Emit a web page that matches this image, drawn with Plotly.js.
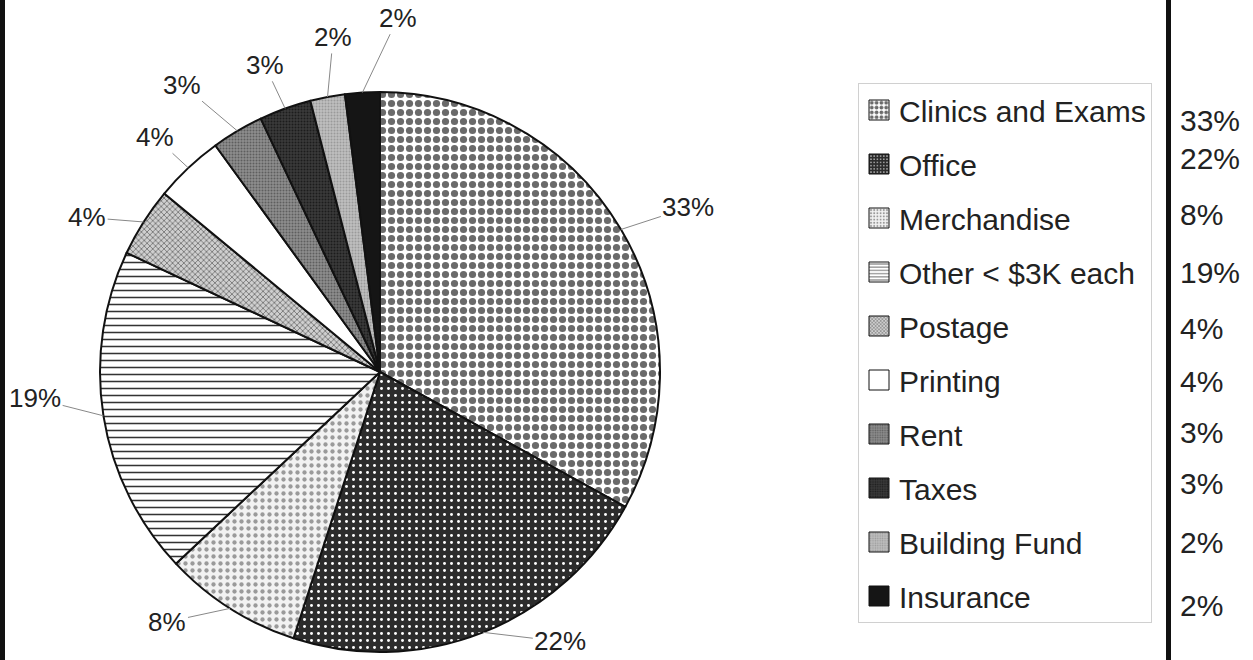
<!DOCTYPE html>
<html><head><meta charset="utf-8">
<script src="https://cdn.plot.ly/plotly-3.0.1.min.js"></script>
<style>html,body{margin:0;padding:0;background:#fff;} #chart{width:1253px;height:660px;}</style>
</head><body><div id="chart"></div>
<script>
// ---- data ----
const categories = ["Clinics and Exams","Office","Merchandise","Other < $3K each","Postage","Printing","Rent","Taxes","Building Fund","Insurance"];
const shares = [33,22,8,19,4,4,3,3,2,2];

// ---- styles (not data) ----
const bgColors = ["#ffffff","#2c2c2c","#f2f2f2","#ffffff","#cfcfcf","#ffffff","#8e8e8e","#3a3a3a","#bfbfbf","#151515"];
const fgColors = ["#6a6a6a","#ffffff","#9a9a9a","#333333","#555555","#ffffff","#5e5e5e","#1c1c1c","#9a9a9a","#151515"];
const shapes   = [".",".",".","-","x","",".",".",".",""];
const psizes   = [9,7,7,7,4,8,3,3,3,8];
const solid    = [0.5,0.14,0.3,0.22,0.3,0.3,0.35,0.35,0.35,0.3];

const W = 1253, H = 660;
const CX = 380, CY = 372, R = 280;           // pie placement (px)
const labelR = 335;                          // label radius (px)
const nudgeX = [20,57,-33,-14,-10,4,-27,-2,16,39];
const nudgeY = [6,-42,-33,-26,25,9,1,8,-6,-20];
const rightY = [120,158,215,273,328,382,432,483,542,605];
const FONT = "Liberation Sans, Arial, sans-serif";

const pie = {
  type: 'pie', labels: categories, values: shares, sort: false,
  direction: 'clockwise', rotation: 0, textinfo: 'none', showlegend: false,
  domain: {x: [(CX-R)/W, (CX+R)/W], y: [1-(CY+R)/H, 1-(CY-R)/H]},
  marker: {colors: bgColors, line: {color: '#111', width: 2},
    pattern: {shape: shapes, fgcolor: fgColors, bgcolor: bgColors, size: psizes, solidity: solid}}
};

const traces = [pie];
categories.forEach((c, i) => traces.push({
  type: 'bar', x: [0], y: [1], name: c, legendgroup: 'g' + i, showlegend: true, hoverinfo: 'skip',
  marker: {color: bgColors[i], line: {color: '#111', width: 1},
    pattern: {shape: shapes[i], fgcolor: fgColors[i], bgcolor: bgColors[i], size: Math.max(3, psizes[i]-3), solidity: solid[i]}}
}));

const total = shares.reduce((a, b) => a + b, 0);
const annotations = [];
let cum = 0;
shares.forEach((v, i) => {
  const mid = (cum + v / 2) / total * 2 * Math.PI; cum += v;
  const s = Math.sin(mid), c = Math.cos(mid);
  const px = CX + R * s, py = CY - R * c;
  annotations.push({
    xref: 'paper', yref: 'paper', x: px / W, y: 1 - py / H,
    ax: (labelR - R) * s + nudgeX[i], ay: -(labelR - R) * c + nudgeY[i],
    text: Math.round(v / total * 100) + '%', showarrow: true, arrowhead: 0,
    arrowwidth: 1, arrowcolor: '#888', standoff: 0,
    font: {family: FONT, size: 26, color: '#222'}
  });
  annotations.push({
    xref: 'paper', yref: 'paper', x: 1178 / W, y: 1 - rightY[i] / H,
    xanchor: 'left', yanchor: 'middle', showarrow: false,
    text: Math.round(v / total * 100) + '%',
    font: {family: FONT, size: 30, color: '#222'}
  });
});

const layout = {
  width: W, height: H, margin: {l: 0, r: 0, t: 0, b: 0},
  paper_bgcolor: '#fff', plot_bgcolor: 'rgba(0,0,0,0)',
  font: {family: FONT, color: '#222'},
  showlegend: true,
  legend: {x: 858 / W, y: 1 - 83 / H, xanchor: 'left', yanchor: 'top',
    bordercolor: '#d0d0d0', borderwidth: 1, bgcolor: '#fff',
    font: {family: FONT, size: 30, color: '#222'},
    traceorder: 'grouped', tracegroupgap: 12},
  xaxis: {visible: false, fixedrange: true, range: [-1, 1]},
  yaxis: {visible: false, fixedrange: true, range: [10, 20]},
  annotations: annotations,
  shapes: [
    {type: 'line', xref: 'paper', yref: 'paper', x0: 2.5 / W, x1: 2.5 / W, y0: 0, y1: 1, line: {color: '#111', width: 5}},
    {type: 'line', xref: 'paper', yref: 'paper', x0: 1168.5 / W, x1: 1168.5 / W, y0: 0, y1: 1, line: {color: '#111', width: 5}}
  ]
};

Plotly.newPlot('chart', traces, layout, {staticPlot: true}).then(gd => {
  gd.querySelectorAll('.legend .legendpoints path').forEach(p => p.setAttribute('d', 'M10,10H-10V-10H10Z'));
});
</script></body></html>
